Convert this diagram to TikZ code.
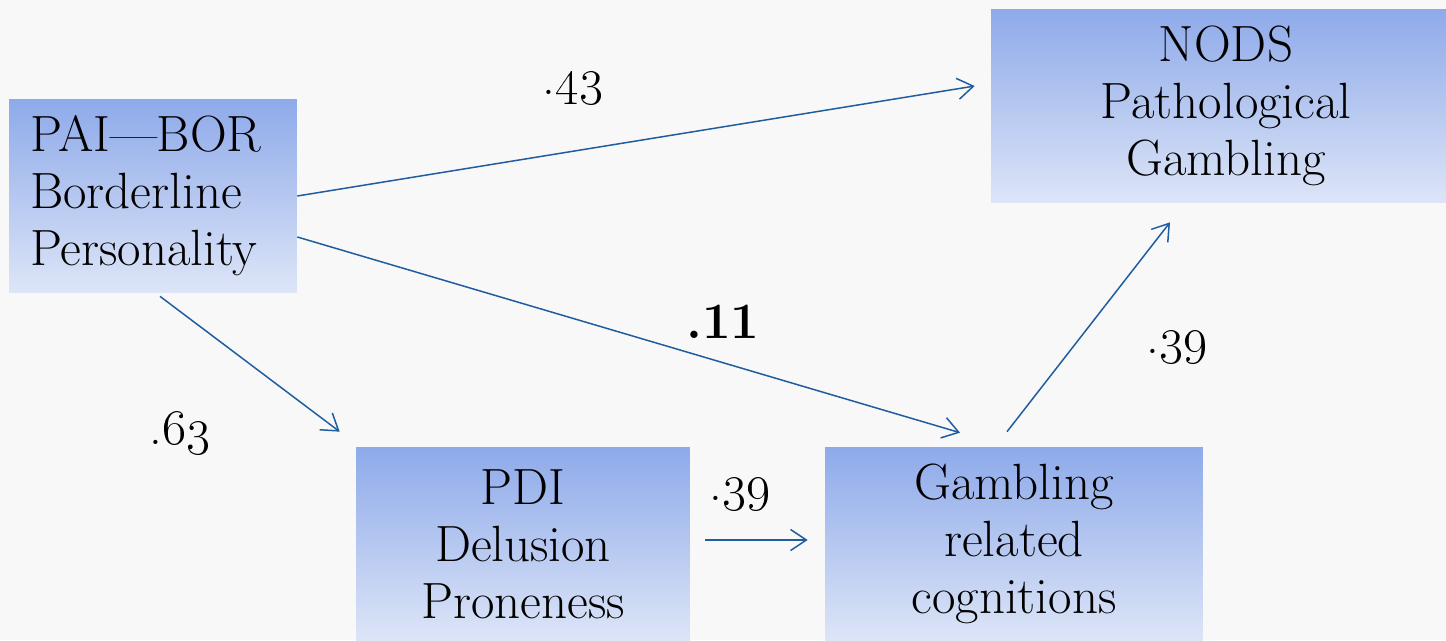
\documentclass[tikz,border=0pt]{standalone}
\usepackage{fix-cm}
\usetikzlibrary{arrows.meta}

\definecolor{bluetop}{RGB}{142,170,234}
\definecolor{bluebot}{RGB}{221,229,247}
\definecolor{linkblue}{RGB}{32,93,158}
\definecolor{slide}{RGB}{248,248,248}

\tikzset{
  var/.style={top color=bluetop, bottom color=bluebot, minimum height=3.88cm,
    inner sep=0pt, align=center, font=\fontsize{29}{32.4}\selectfont},
  link/.style={draw=linkblue, line width=0.85pt, -{Straight Barb[length=9pt,width=12pt]}},
  coef/.style={font=\fontsize{29}{32.4}\selectfont}
}

\begin{document}
\begin{tikzpicture}[x=0.02cm, y=-0.02cm]

   \fill[slide] (0,0) rectangle (1446,640);
   \useasboundingbox (0,0) rectangle (1446,640);

   \node[var, minimum width=5.76cm, text width=4.92cm, align=left]
      (pai) at (153,196) {PAI---BOR\\Borderline\\Personality};
   \node[var, minimum width=9.4cm]  (nods) at (1226,106) {NODS\\Pathological\\Gambling};
   \node[var, minimum width=6.68cm] (pdi)  at (523,544)  {PDI\\Delusion\\Proneness};
   \node[var, minimum width=7.56cm] (gam)  at (1014,544) {Gambling\\related\\cognitions};

   \foreach \n/\x/\y/\t in {c1/573/88/{.\oldstylenums{43}}, c2/723/322/{\textbf{.11}},
                            c3/180/433/{.\oldstylenums{63}}, c4/740/494/{.\oldstylenums{39}},
                            c5/1177/347/{.\oldstylenums{39}}}
     \node[coef] (\n) at (\x,\y) {\t};

   \draw[link] (pai.east) -- ([xshift=-0.32cm, yshift=0.4cm]nods.west);
   \draw[link] ([yshift=-0.82cm]pai.east) -- ([xshift=-1.08cm, yshift=0.28cm]gam.north);
   \draw[link] ([xshift=0.14cm, yshift=-0.06cm]pai.south) -- ([xshift=-0.32cm, yshift=0.3cm]pdi.north west);
   \draw[link] ([xshift=0.3cm, yshift=0.08cm]pdi.east) -- ([xshift=-0.34cm, yshift=0.08cm]gam.west);
   \draw[link] ([xshift=-0.14cm, yshift=0.3cm]gam.north) -- ([xshift=-1.12cm, yshift=-0.38cm]nods.south);

\end{tikzpicture}
\end{document}
